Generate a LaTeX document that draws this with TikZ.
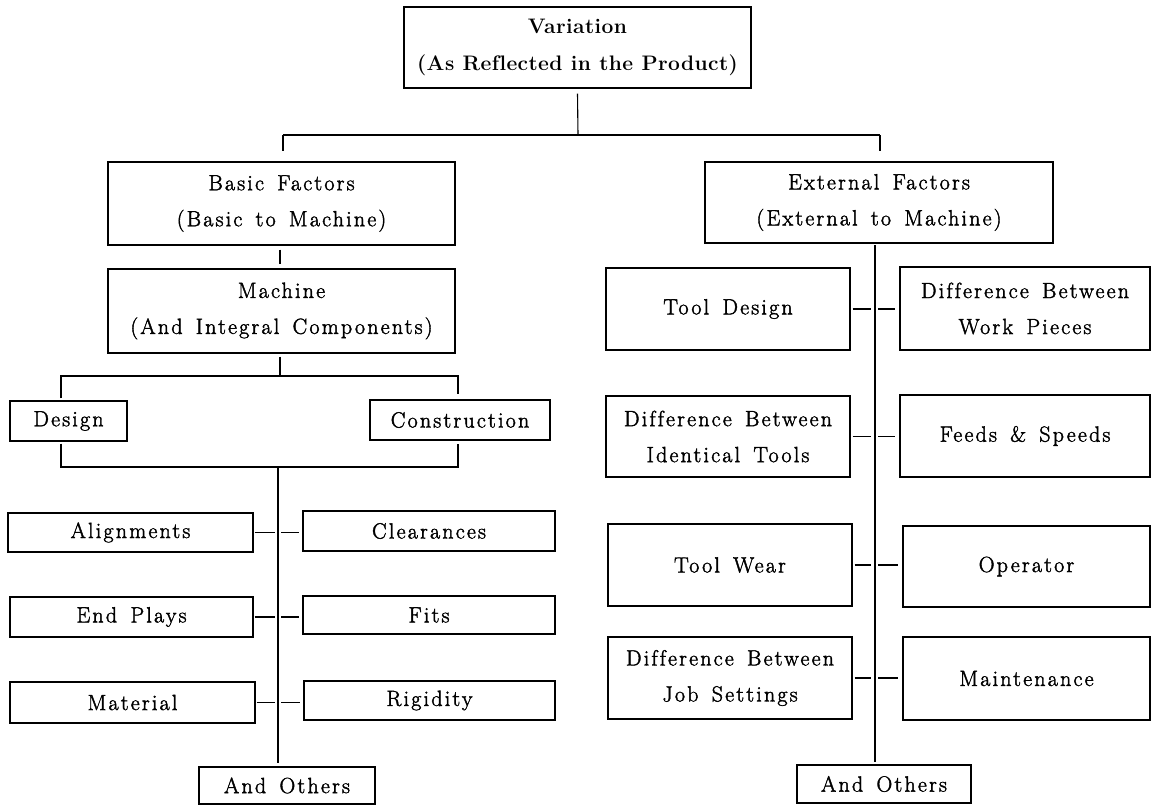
\documentclass[tikz,border=0pt]{standalone}
\usepackage{fontspec}
\setmainfont{Latin Modern Roman}[LetterSpace=10, WordSpace=1.5, Ligatures=NoCommon, FakeBold=1.8]
\newfontfamily\titlefont{Latin Modern Roman}[LetterSpace=2, Ligatures=NoCommon]
\begin{document}
\begin{tikzpicture}[x=1pt,y=-1pt,
  box/.style={draw, line width=1.1pt, inner sep=0pt, align=center,
              font=\fontsize{22}{36}\selectfont},
  ln/.style={line width=1.1pt}]
\useasboundingbox (0,0) rectangle (1159,806);
% top
\node[box, font=\fontsize{21}{37}\titlefont\bfseries, minimum width=347pt, minimum height=81pt] (V) at (577.5,47.5) {Variation\\(As Reflected in the Product)};
\node[box, minimum width=347pt, minimum height=83pt] (BF) at (281.5,203.5) {Basic Factors\\(Basic to Machine)};
\node[box, minimum width=348pt, minimum height=81pt] (EF) at (879,202.5) {External Factors\\(External to Machine)};
\node[box, minimum width=347pt, minimum height=84pt] (MA) at (281.5,311) {Machine\\(And Integral Components)};
\node[box, minimum width=117pt, minimum height=40pt] (DE) at (68.5,421) {Design};
\node[box, minimum width=180pt, minimum height=40pt] (CO) at (460,420) {Construction};
% left rows
\node[box, minimum width=245pt, minimum height=39pt] (AL) at (130.5,532.5) {Alignments};
\node[box, minimum width=252pt, minimum height=40pt] (CL) at (429,531) {Clearances};
\node[box, minimum width=243pt, minimum height=40pt] (EP) at (131.5,617) {End Plays};
\node[box, minimum width=252pt, minimum height=38pt] (FI) at (429,615) {Fits};
\node[box, minimum width=245pt, minimum height=41pt] (MT) at (132.5,702.5) {Material};
\node[box, minimum width=251pt, minimum height=39pt] (RI) at (429.5,700.5) {Rigidity};
\node[box, minimum width=176pt, minimum height=37pt] (AOL) at (287,785.5) {And Others};
% right rows
\node[box, minimum width=244pt, minimum height=82pt] (TD) at (728,309) {Tool Design};
\node[box, minimum width=250pt, minimum height=83pt] (WP) at (1025,308.5) {Difference Between\\Work Pieces};
\node[box, minimum width=244pt, minimum height=81pt] (IT) at (728,436.5) {Difference Between\\Identical Tools};
\node[box, minimum width=250pt, minimum height=82pt] (FS) at (1025,436) {Feeds \& Speeds};
\node[box, minimum width=244pt, minimum height=82pt] (TW) at (730,565) {Tool Wear};
\node[box, minimum width=247pt, minimum height=81pt] (OP) at (1026.5,566.5) {Operator};
\node[box, minimum width=244pt, minimum height=82pt] (JS) at (730,678) {Difference Between\\Job Settings};
\node[box, minimum width=247pt, minimum height=83pt] (MN) at (1026.5,678.5) {Maintenance};
\node[box, minimum width=174pt, minimum height=38pt] (AOR) at (884,784) {And Others};
% junction coordinates
\coordinate (hV) at (578,135);
\coordinate (hL) at (283,135);
\coordinate (hR) at (880,135);
\coordinate (bL1) at (61,376);
\coordinate (bR1) at (458,376);
\coordinate (bM1) at (280,376);
\coordinate (bL2) at (61,467);
\coordinate (bR2) at (458,467);
\coordinate (tL) at (278,467);
\coordinate (tLe) at (278,763);
\coordinate (tR) at (875,245);
\coordinate (tRe) at (875,762);
% top tree
\draw[ln] ([yshift=-5pt]V.south) -- (hV);
\draw[ln] (hL) -- (hR);
\draw[ln] (hL) -- ([yshift=10pt]hL |- BF.north);
\draw[ln] (hR) -- ([yshift=10pt]hR |- EF.north);
\draw[ln] ([yshift=-4pt]BF.south -| bM1) -- ([yshift=4pt]MA.north -| bM1);
\draw[ln] ([yshift=-3pt]MA.south -| bM1) -- (bM1);
% Design / Construction brackets
\draw[ln] ([yshift=2pt]DE.north -| bL1) -- (bL1) -- (bR1) -- ([yshift=5pt]CO.north -| bR1);
\draw[ln] ([yshift=-2pt]DE.south -| bL2) -- (bL2) -- (bR2) -- ([yshift=-3pt]CO.south -| bR2);
\draw[ln] (tL) -- (tLe);
% left stubs
\foreach \a/\b in {AL/CL, EP/FI, MT/RI}{
  \draw[ln] ([xshift=1pt]\a.east) -- ([xshift=-3pt]\a.east -| tL);
  \draw[ln] ([xshift=3pt]\a.east -| tL) -- ([xshift=-3pt]\b.west |- \a.east);
}
% right trunk and stubs
\draw[ln] (tR) -- (tRe);
\foreach \a/\b in {TD/WP, IT/FS, TW/OP, JS/MN}{
  \draw[ln] ([xshift=2pt]\a.east) -- ([xshift=-4pt]\a.east -| tR);
  \draw[ln] ([xshift=3pt]\a.east -| tR) -- ([xshift=-4pt]\b.west |- \a.east);
}
\end{tikzpicture}
\end{document}
